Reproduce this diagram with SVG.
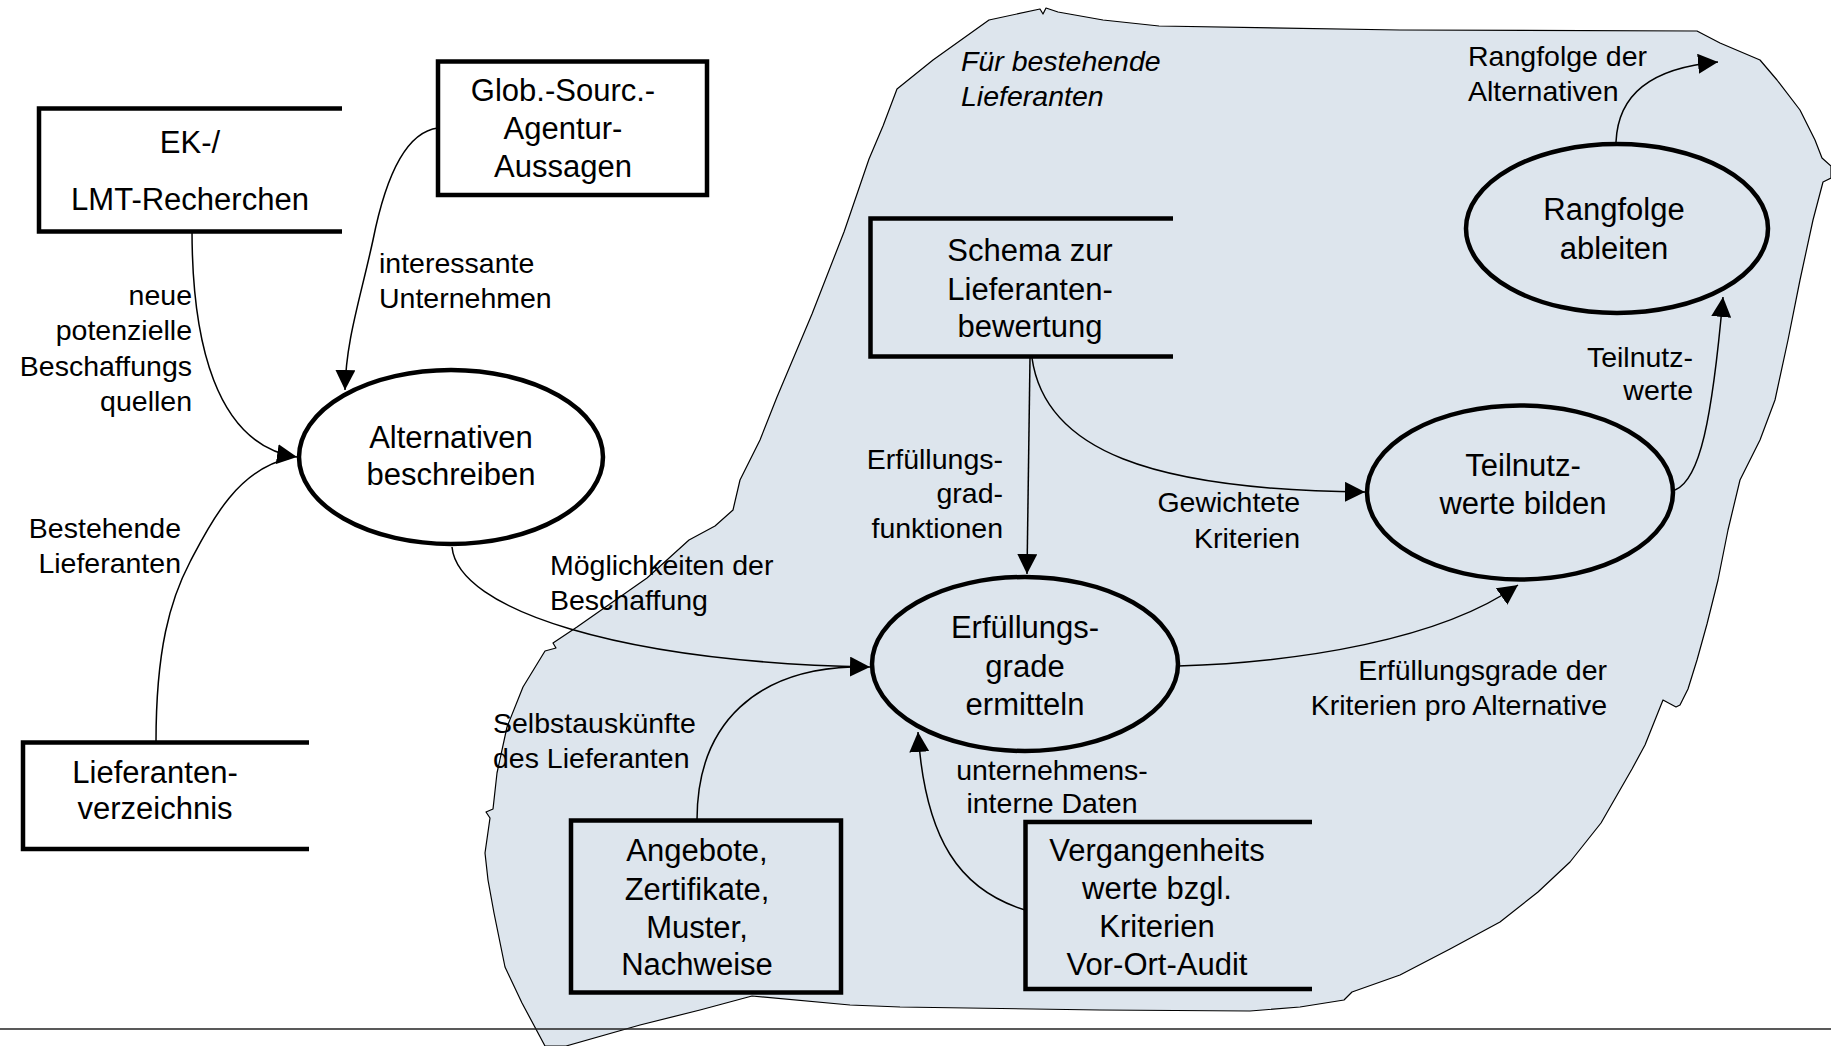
<svg xmlns="http://www.w3.org/2000/svg" width="1831" height="1046" viewBox="0 0 1831 1046">
  <style>
    .area { fill: #dde5ed; stroke: #000; stroke-width: 1.2; stroke-linejoin: round; }
    .store { fill: none; stroke: #000; stroke-width: 4.5; stroke-linejoin: miter; }
    .proc { fill: none; stroke: #000; stroke-width: 4.5; }
    .conn { fill: none; stroke: #000; stroke-width: 1.5; }
    .arr { marker-end: url(#head); }
    text { font-family: "Liberation Sans", Arial, sans-serif; fill: #000; }
    .nt { font-size: 31px; text-anchor: middle; }
    .lbl { font-size: 28.5px; }
    .end { text-anchor: end; }
    .mid { text-anchor: middle; }
    .it { font-style: italic; }
    .rule { stroke: #222; stroke-width: 1.5; }
  </style>
  <defs>
    <marker id="head" markerUnits="userSpaceOnUse" markerWidth="20" markerHeight="20" refX="20" refY="10" orient="auto">
      <path d="M0,0 L20,10 L0,20 Z" fill="#000"/>
    </marker>
  </defs>

  <rect x="0" y="0" width="1831" height="1046" fill="#fff"/>

  <!-- area of the existing suppliers -->
  <g id="area-existing">
    <path class="area" d="M1046,8 L1058,12 L1103,20 L1159,26 L1400,30 L1697,31 L1720,43 L1760,60 L1777,80 L1800,110 L1815,140 L1822,158 L1831,166 L1831,178 L1823,182 L1813,220 L1800,280 L1788,340 L1775,400 L1760,440 L1740,480 L1728,530 L1718,580 L1707,624 L1697,660 L1688,689 L1680,705 L1676,707 L1663,700 L1657,715 L1645,745 L1632,769 L1601,823 L1570,862 L1538,892 L1500,922 L1450,949 L1400,975 L1352,992 L1344,1000 L1300,1007 L1250,1011 L1100,1010 L900,1007 L850,1005 L752,996 L700,1010 L640,1025 L566,1046 L545,1046 L522,1003 L505,967 L494,913 L488,880 L485,853 L490,818 L486,812 L493,809 L497,773 L507,727 L523,687 L545,651 L556,648 L553,643 L577,627 L647,578 L689,540 L715,526 L733,510 L740,480 L760,440 L777,397 L812,314 L844,232 L869,159 L883,126 L897,89 L933,60 L989,20 L1040,9 L1043,14 Z"/>
    <text class="lbl it" x="961" y="71">Für bestehende</text>
    <text class="lbl it" x="961" y="106">Lieferanten</text>
  </g>

  <line class="rule" x1="0" y1="1029" x2="1831" y2="1029"/>

  <!-- data flows -->
  <g id="connectors">
    <g id="c-ek-alt">
      <path class="conn arr" d="M192,230 C192,340 215,445 297,457"/>
      <text class="lbl end" x="192"><tspan x="192" y="305">neue</tspan><tspan x="192" y="340">potenzielle</tspan><tspan x="192" y="376">Beschaffungs</tspan><tspan x="192" y="411">quellen</tspan></text>
    </g>
    <g id="c-glob-alt">
      <path class="conn arr" d="M438,128 C405,132 385,180 373,240 C360,300 346,340 345,390"/>
      <text class="lbl"><tspan x="379" y="273">interessante</tspan><tspan x="379" y="308">Unternehmen</tspan></text>
    </g>
    <g id="c-verz-alt">
      <path class="conn" d="M156,742 C156,650 170,600 190,562 C208,528 235,470 290,458"/>
      <text class="lbl end"><tspan x="181" y="538">Bestehende</tspan><tspan x="181" y="573">Lieferanten</tspan></text>
    </g>
    <g id="c-alt-erf">
      <path class="conn arr" d="M452,547 C458,610 620,662 870,667"/>
      <text class="lbl"><tspan x="550" y="575">Möglichkeiten der</tspan><tspan x="550" y="610">Beschaffung</tspan></text>
    </g>
    <g id="c-ang-erf">
      <path class="conn" d="M697,820 C697,720 760,670 852,667"/>
      <text class="lbl"><tspan x="493" y="733">Selbstauskünfte</tspan><tspan x="493" y="768">des Lieferanten</tspan></text>
    </g>
    <g id="c-verg-erf">
      <path class="conn arr" d="M1025,910 C960,890 925,840 918,732"/>
      <text class="lbl mid"><tspan x="1052" y="780">unternehmens-</tspan><tspan x="1052" y="813">interne Daten</tspan></text>
    </g>
    <g id="c-schema-erf">
      <path class="conn arr" d="M1030,358 L1027,574"/>
      <text class="lbl end"><tspan x="1003" y="469">Erfüllungs-</tspan><tspan x="1003" y="503">grad-</tspan><tspan x="1003" y="538">funktionen</tspan></text>
    </g>
    <g id="c-schema-teil">
      <path class="conn arr" d="M1032,358 C1045,450 1150,490 1365,492"/>
      <text class="lbl end"><tspan x="1300" y="512">Gewichtete</tspan><tspan x="1300" y="548">Kriterien</tspan></text>
    </g>
    <g id="c-erf-teil">
      <path class="conn arr" d="M1178,666 C1300,662 1440,640 1518,585"/>
      <text class="lbl end"><tspan x="1607" y="680">Erfüllungsgrade der</tspan><tspan x="1607" y="715">Kriterien pro Alternative</tspan></text>
    </g>
    <g id="c-teil-rang">
      <path class="conn arr" d="M1675,490 C1700,480 1712,420 1723,297"/>
      <text class="lbl end"><tspan x="1693" y="367">Teilnutz-</tspan><tspan x="1693" y="400">werte</tspan></text>
    </g>
    <g id="c-rang-out">
      <path class="conn arr" d="M1616,142 C1618,95 1650,68 1718,62"/>
      <text class="lbl"><tspan x="1468" y="66">Rangfolge der</tspan><tspan x="1468" y="101">Alternativen</tspan></text>
    </g>
  </g>

  <!-- stores and processes -->
  <g id="n-ek">
    <path class="store" d="M342,108.5 H39 V231.5 H342"/>
    <text class="nt"><tspan x="190" y="153">EK-/</tspan><tspan x="190" y="210">LMT-Recherchen</tspan></text>
  </g>
  <g id="n-glob">
    <rect class="store" x="438" y="61.5" width="269" height="133.5"/>
    <text class="nt"><tspan x="563" y="101">Glob.-Sourc.-</tspan><tspan x="563" y="139">Agentur-</tspan><tspan x="563" y="177">Aussagen</tspan></text>
  </g>
  <g id="n-verz">
    <path class="store" d="M309,742.5 H23 V849 H309"/>
    <text class="nt"><tspan x="155" y="783">Lieferanten-</tspan><tspan x="155" y="819">verzeichnis</tspan></text>
  </g>
  <g id="n-schema">
    <path class="store" d="M1173,218.5 H870.5 V356.5 H1173"/>
    <text class="nt"><tspan x="1030" y="261">Schema zur</tspan><tspan x="1030" y="300">Lieferanten-</tspan><tspan x="1030" y="337">bewertung</tspan></text>
  </g>
  <g id="n-angebote">
    <rect class="store" x="571" y="820.5" width="270" height="172"/>
    <text class="nt"><tspan x="697" y="861">Angebote,</tspan><tspan x="697" y="900">Zertifikate,</tspan><tspan x="697" y="938">Muster,</tspan><tspan x="697" y="975">Nachweise</tspan></text>
  </g>
  <g id="n-vergangenheit">
    <path class="store" d="M1312,822 H1025.5 V989 H1312"/>
    <text class="nt"><tspan x="1157" y="861">Vergangenheits</tspan><tspan x="1157" y="899">werte bzgl.</tspan><tspan x="1157" y="937">Kriterien</tspan><tspan x="1157" y="975">Vor-Ort-Audit</tspan></text>
  </g>
  <g id="p-alternativen">
    <ellipse class="proc" cx="451" cy="457" rx="152" ry="87"/>
    <text class="nt"><tspan x="451" y="448">Alternativen</tspan><tspan x="451" y="485">beschreiben</tspan></text>
  </g>
  <g id="p-erfuellung">
    <ellipse class="proc" cx="1025" cy="664" rx="153" ry="87"/>
    <text class="nt"><tspan x="1025" y="638">Erfüllungs-</tspan><tspan x="1025" y="677">grade</tspan><tspan x="1025" y="715">ermitteln</tspan></text>
  </g>
  <g id="p-teilnutz">
    <ellipse class="proc" cx="1520" cy="492.5" rx="153" ry="87"/>
    <text class="nt"><tspan x="1523" y="476">Teilnutz-</tspan><tspan x="1523" y="514">werte bilden</tspan></text>
  </g>
  <g id="p-rangfolge">
    <ellipse class="proc" cx="1617" cy="228.5" rx="151" ry="84.5"/>
    <text class="nt"><tspan x="1614" y="220">Rangfolge</tspan><tspan x="1614" y="259">ableiten</tspan></text>
  </g>
</svg>
